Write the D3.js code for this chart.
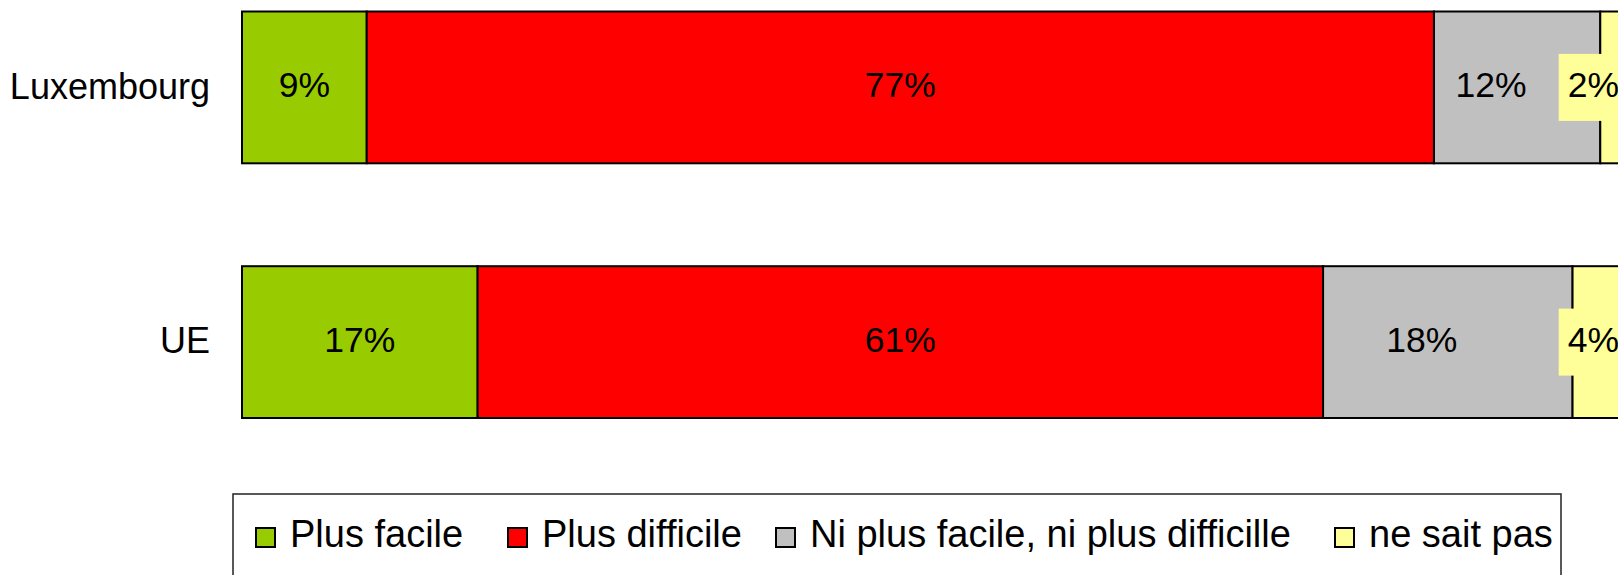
<!DOCTYPE html>
<html>
<head>
<meta charset="utf-8">
<script src="https://cdn.jsdelivr.net/npm/d3@7"></script>
<style>
  body { margin: 0; background: #fff; }
  text { font-family: "Liberation Sans", Arial, sans-serif; fill: #000; }
</style>
</head>
<body>
<div class="canvas"></div>
<script>
const dimensions = { height: 575, width: 1618 };

// data
const categories = ['Luxembourg', 'UE'];
const seriesNames = ['Plus facile', 'Plus difficile', 'Ni plus facile, ni plus difficille', 'ne sait pas'];
const seriesColours = ['#99cc00', '#ff0000', '#c0c0c0', '#ffff99'];
const plusFacile = [9, 17];
const plusDifficile = [77, 61];
const niNi = [12, 18];
const neSaitPas = [2, 4];
const valueLabels = [
    ['9%', '77%', '12%', '2%'],
    ['17%', '61%', '18%', '4%']
];
// the grey labels sit a bit left of their segment centre in the original
const labelShift = [0, 0, -26, 0];

const seriesValues = [plusFacile, plusDifficile, niNi, neSaitPas];
const rows = categories.map((c, i) => {
    const row = { category: c };
    seriesNames.forEach((s, j) => row[s] = seriesValues[j][i]);
    return row;
});

const svg = d3.select('.canvas')
    .append('svg')
    .attr('width', dimensions.width)
    .attr('height', dimensions.height);

const x = d3.scaleLinear()
    .domain([0, 100])
    .range([242, 1628]);

const y = d3.scaleBand()
    .domain(categories)
    .range([11.5, 418])
    .paddingInner(0.404)
    .paddingOuter(0);

const colour = d3.scaleOrdinal()
    .domain(seriesNames)
    .range(seriesColours);

const stacked = d3.stack().keys(seriesNames)(rows);

// bars
const layers = svg.selectAll('.layer')
    .data(stacked)
    .enter()
    .append('g')
        .attr('class', 'layer')
        .attr('fill', d => colour(d.key));

layers.selectAll('rect')
    .data(d => d)
    .enter()
    .append('rect')
        .attr('x', d => x(d[0]))
        .attr('y', d => y(d.data.category))
        .attr('width', d => x(d[1]) - x(d[0]))
        .attr('height', y.bandwidth())
        .attr('stroke', '#000')
        .attr('stroke-width', 2);

// category labels
svg.selectAll('.cat')
    .data(categories)
    .enter()
    .append('text')
        .attr('class', 'cat')
        .attr('x', 210)
        .attr('y', d => y(d) + y.bandwidth() / 2)
        .attr('dy', '0.31em')
        .attr('text-anchor', 'end')
        .style('font-size', '36px')
        .text(d => d);

// value labels
const labelData = [];
stacked.forEach((layer, j) => {
    layer.forEach((d, i) => {
        labelData.push({ j, i, d, text: valueLabels[i][j] });
    });
});

const labels = svg.selectAll('.vlabel')
    .data(labelData)
    .enter()
    .append('g')
        .attr('class', 'vlabel');

labels.each(function(l) {
    const g = d3.select(this);
    const cy = y(categories[l.i]) + y.bandwidth() / 2;
    let cx = (x(l.d[0]) + x(l.d[1])) / 2 + labelShift[l.j];
    const t = g.append('text')
        .attr('y', cy)
        .attr('dy', '0.27em')
        .attr('text-anchor', 'middle')
        .style('font-size', '35.5px')
        .text(l.text);
    const w = t.node().getComputedTextLength();
    const boxW = w + 18;
    // label too wide for the segment: pushed inside the plot with its own background
    if (boxW > x(l.d[1]) - x(l.d[0])) {
        if (cx + boxW / 2 > x(100)) cx = x(100) - boxW / 2;
        g.insert('rect', 'text')
            .attr('x', cx - boxW / 2)
            .attr('y', cy - 33.5)
            .attr('width', boxW)
            .attr('height', 67)
            .attr('fill', colour(seriesNames[l.j]));
    }
    t.attr('x', cx);
});

// legend
const legend = svg.append('g').attr('class', 'legend');

legend.append('rect')
    .attr('x', 233)
    .attr('y', 494)
    .attr('width', 1328)
    .attr('height', 120)
    .attr('fill', '#fff')
    .attr('stroke', '#222')
    .attr('stroke-width', 1.5);

const legendX = [255, 507, 775, 1334];

const items = legend.selectAll('.item')
    .data(seriesNames)
    .enter()
    .append('g')
        .attr('class', 'item')
        .attr('transform', (d, i) => `translate(${legendX[i]}, 0)`);

items.append('rect')
    .attr('x', 1)
    .attr('y', 528)
    .attr('width', 19)
    .attr('height', 19)
    .attr('fill', d => colour(d))
    .attr('stroke', '#000')
    .attr('stroke-width', 2);

items.append('text')
    .attr('x', 35)
    .attr('y', 547)
    .style('font-size', '38px')
    .text(d => d);
</script>
</body>
</html>
